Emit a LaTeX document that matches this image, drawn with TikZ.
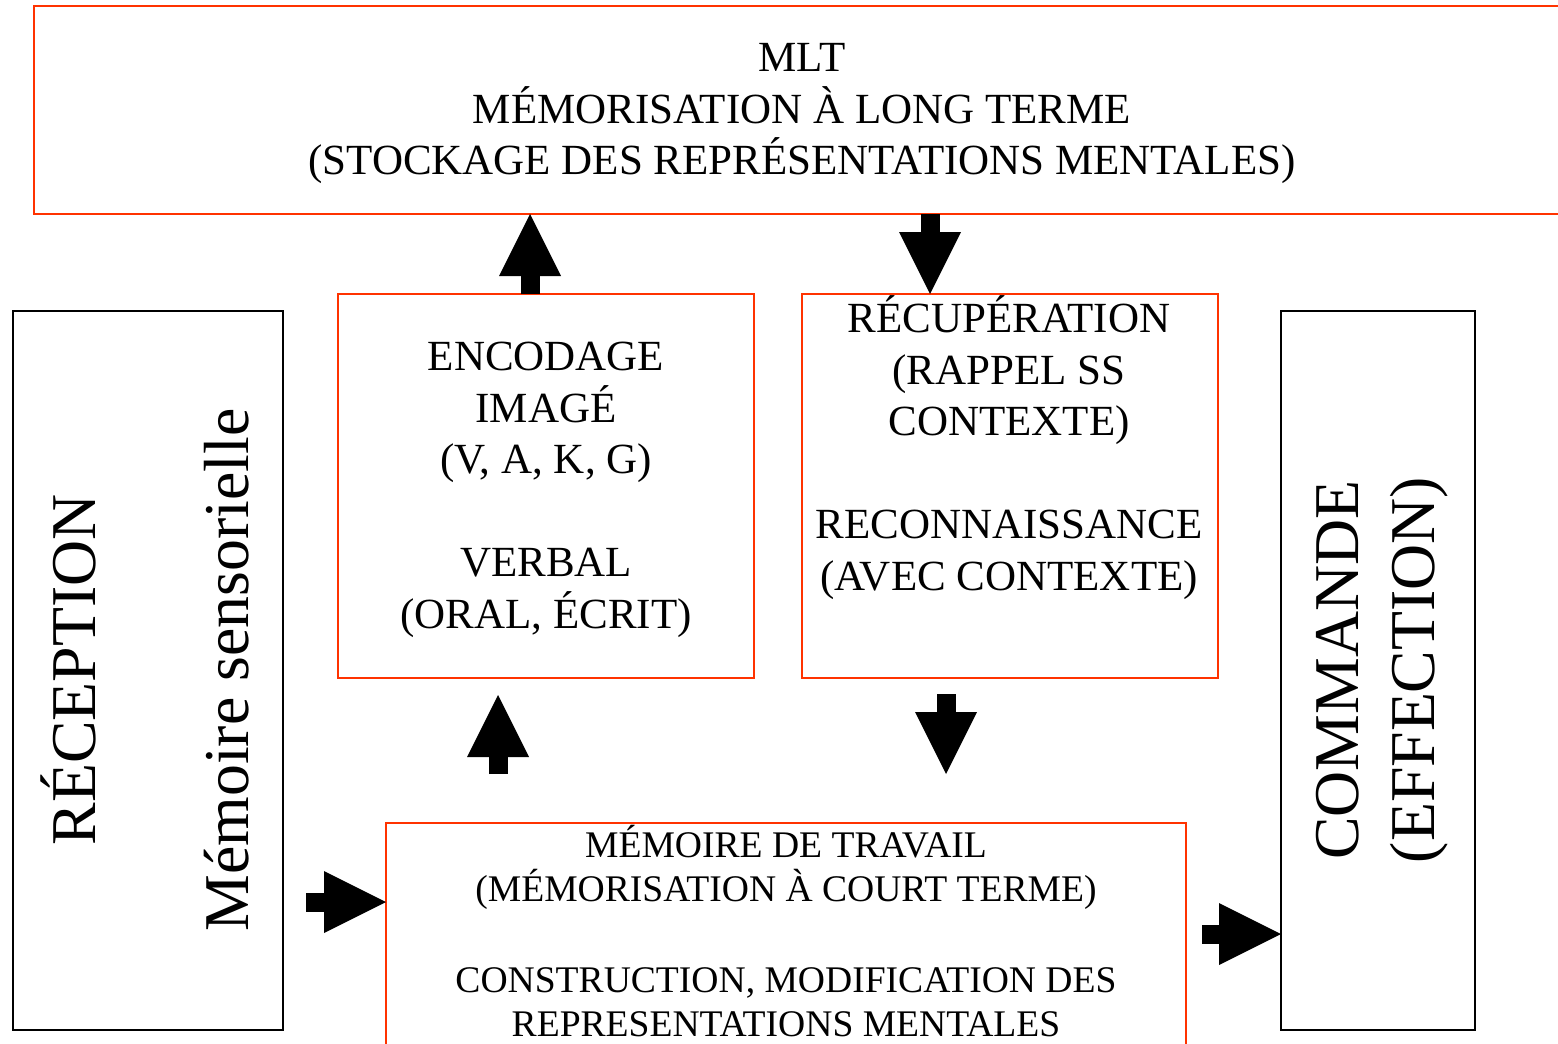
\documentclass[tikz,border=0pt]{standalone}
\usepackage{fontspec}
\setmainfont{Liberation Serif}
\usetikzlibrary{arrows.meta}
\definecolor{boxred}{RGB}{255,51,0}
\begin{document}
\begin{tikzpicture}[x=1pt,y=-1pt,
  redbox/.style={draw=boxred, line width=2pt, inner sep=0pt, outer sep=0pt},
  blackbox/.style={draw=black, line width=2pt, inner sep=0pt, outer sep=0pt},
  bigtxt/.style={font=\fontsize{43}{51.5}\selectfont, align=center, inner sep=0pt},
  midtxt/.style={font=\fontsize{37.6}{44}\selectfont, align=center, inner sep=0pt},
  hugetxt/.style={font=\fontsize{63.8}{76.5}\selectfont, align=center, inner sep=0pt},
  blockarrow/.style={line width=19pt, -{Triangle[length=62pt,width=62pt,line width=0pt]}},
]
\useasboundingbox (0,0) rectangle (1558,1044);
\clip (0,0) rectangle (1558,1044);
% boxes
\node[redbox, minimum width=1536pt, minimum height=208pt] (mlt) at (802,110) {};
\node[redbox, minimum width=416pt, minimum height=384pt] (enc) at (546,486) {};
\node[redbox, minimum width=416pt, minimum height=384pt] (rec) at (1010,486) {};
\node[blackbox, minimum width=270pt, minimum height=719pt] (recep) at (148,670.5) {};
\node[blackbox, minimum width=194pt, minimum height=719pt] (cmd) at (1378,670.5) {};
\node[redbox, minimum width=800pt, minimum height=237pt] (mdt) at (786,941.5) {};
% texts
\node[bigtxt] (mltT) at (802,113.8) {MLT\\MÉMORISATION À LONG TERME\\(STOCKAGE DES REPRÉSENTATIONS MENTALES)};
\node[bigtxt] (encT) at (546,490) {ENCODAGE\\IMAGÉ\\(V, A, K, G)\\[51.5pt]VERBAL\\(ORAL, ÉCRIT)};
\node[bigtxt] (recT) at (1009,447.5) {RÉCUPÉRATION\\(RAPPEL SS\\CONTEXTE)\\[51.5pt]RECONNAISSANCE\\(AVEC CONTEXTE)};
\node[midtxt] (mdtT) at (786,931) {MÉMOIRE DE TRAVAIL\\(MÉMORISATION À COURT TERME)\\[47pt]CONSTRUCTION, MODIFICATION DES\\REPRESENTATIONS MENTALES};
\node[hugetxt, rotate=90] (recepT) at (144.5,670) {RÉCEPTION\\[76.5pt]Mémoire sensorielle};
\node[hugetxt, rotate=90] (cmdT) at (1382,670) {COMMANDE\\(EFFECTION)};
% arrows
\draw[blockarrow] ([xshift=-16pt]enc.north) -- ([xshift=-16pt]enc.north |- mlt.south);
\draw[blockarrow] ([xshift=-80pt]rec.north |- mlt.south) -- ([xshift=-80pt]rec.north);
\coordinate (a3s) at (306,902);
\draw[blockarrow] (a3s) -- (a3s -| mdt.west);
\coordinate (a4s) at (1202,934);
\draw[blockarrow] (a4s) -- (a4s -| cmd.west);
\coordinate (a5s) at (498,774);
\coordinate (a5e) at (498,695);
\draw[blockarrow] (a5s) -- (a5e);
\coordinate (a6s) at (946,694);
\coordinate (a6e) at (946,774);
\draw[blockarrow] (a6s) -- (a6e);
\end{tikzpicture}
\end{document}
